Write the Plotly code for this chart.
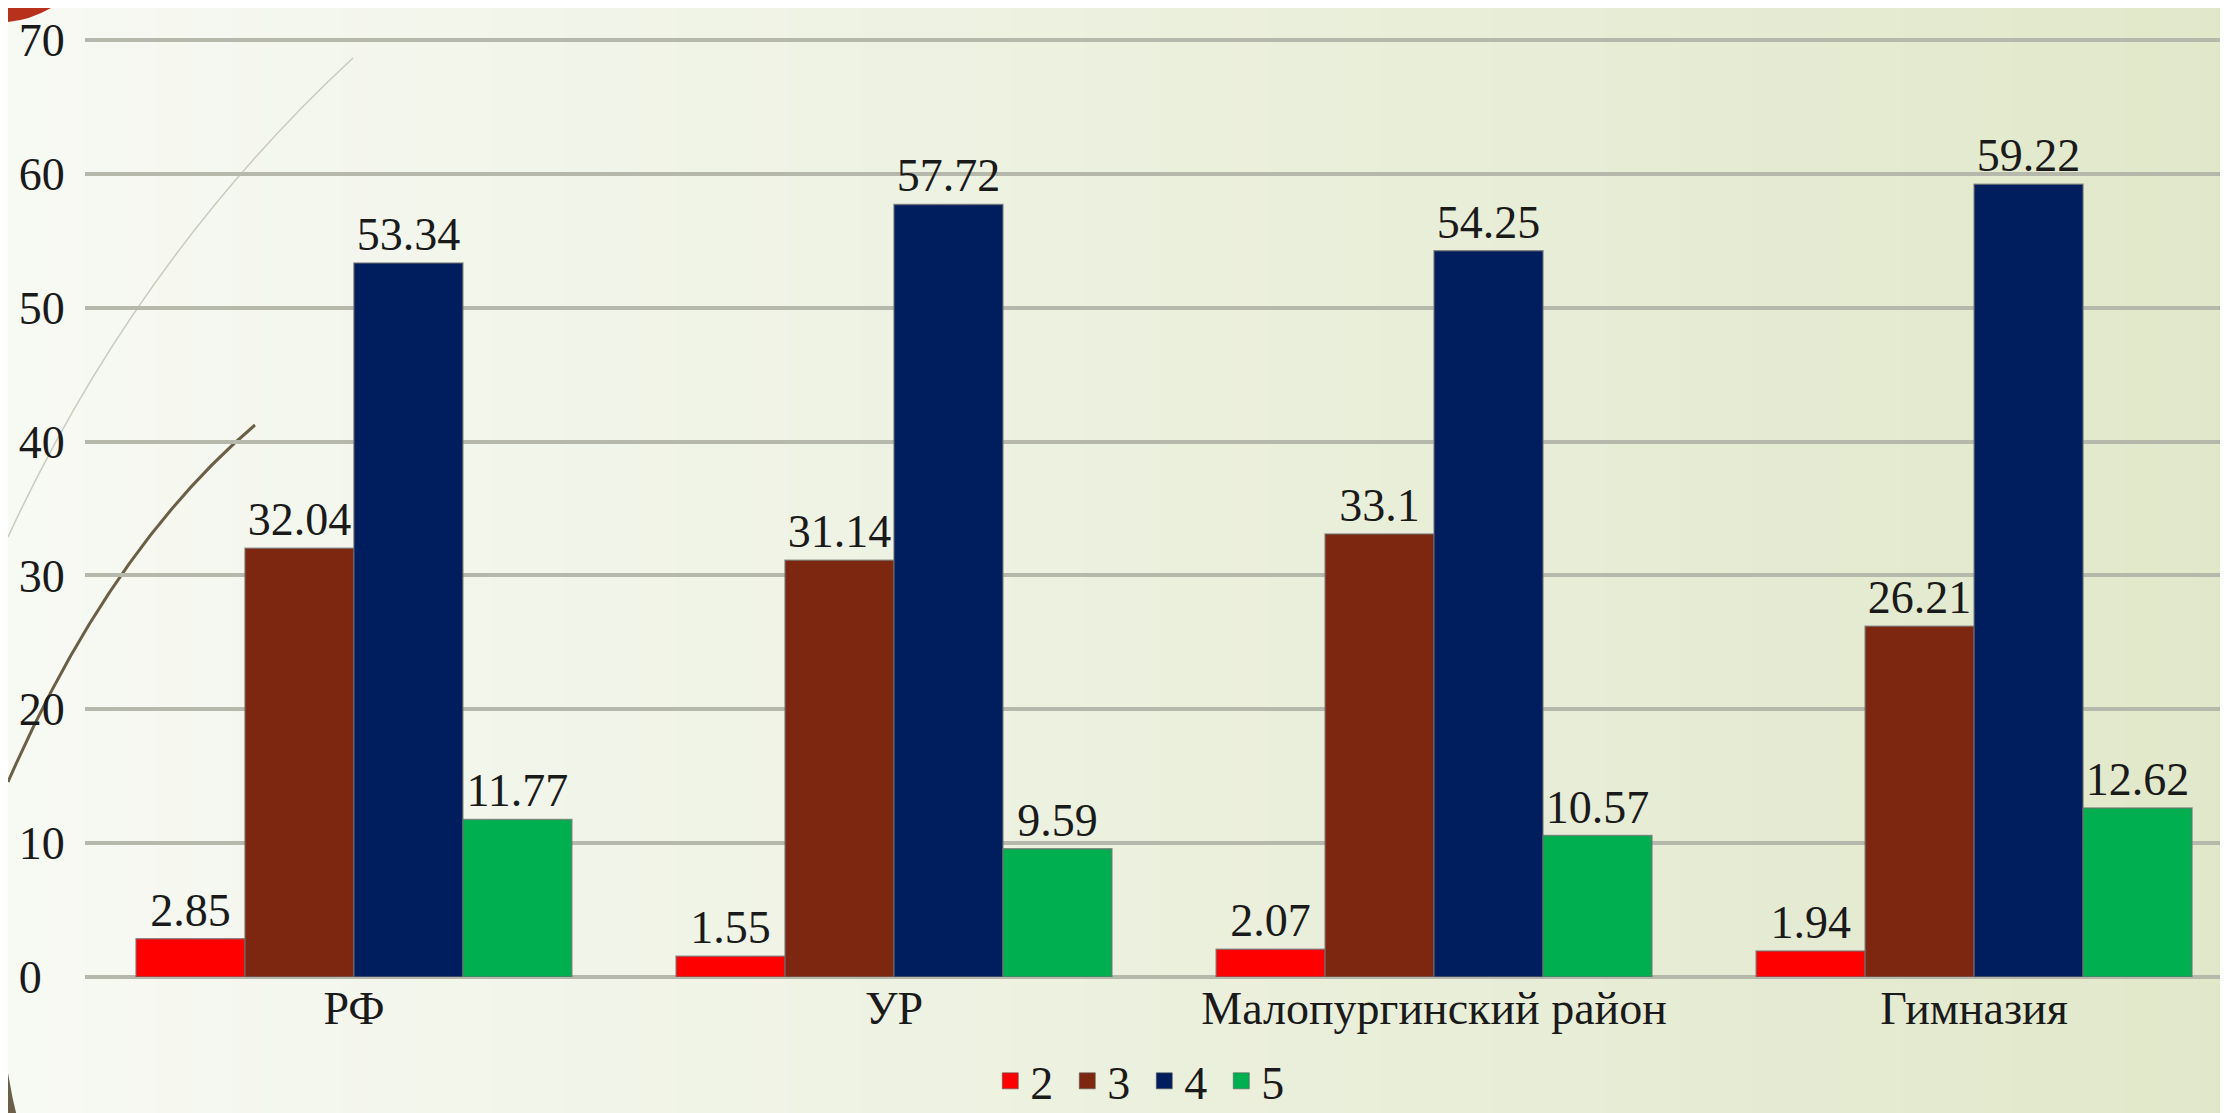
import plotly.graph_objects as go

# данные
categories = ["РФ", "УР", "Малопургинский район", "Гимназия"]
grades = ["2", "3", "4", "5"]
values_2 = [2.85, 1.55, 2.07, 1.94]
values_3 = [32.04, 31.14, 33.1, 26.21]
values_4 = [53.34, 57.72, 54.25, 59.22]
values_5 = [11.77, 9.59, 10.57, 12.62]
y_ticks = [0, 10, 20, 30, 40, 50, 60, 70]

series = [values_2, values_3, values_4, values_5]
colors = ["#ff0000", "#7e2710", "#001e5e", "#00b050"]

W, H = 2228, 1113
L, R, T, B = 77, 0, 28, 144
pw, ph = W - L - R, H - T - B
FONT = "Liberation Serif"


def px(x, y):
    """пиксели страницы -> координаты paper"""
    return (x - L) / pw, (H - B - y) / ph


fig = go.Figure()
for name, vals, col in zip(grades, series, colors):
    fig.add_trace(go.Bar(
        x=categories, y=vals, name=name, showlegend=False,
        marker=dict(color=col, line=dict(color="rgba(110,110,110,0.7)", width=1.5)),
        text=[f"{v:g}" for v in vals], textposition="outside",
        textfont=dict(family=FONT, size=46, color="#1a1a1a"),
        cliponaxis=False,
    ))
# квадратики легенды
for name, col in zip(grades, colors):
    fig.add_trace(go.Scatter(
        x=[None], y=[None], mode="markers", name=name,
        marker=dict(symbol="square", size=20, color=col,
                    line=dict(color="rgba(90,90,90,0.6)", width=1)),
    ))

# фон-градиент полосами
shapes = []
n = 60
c0, c1 = (247, 249, 243), (225, 232, 202)
for i in range(n):
    t = i / (n - 1)
    c = tuple(round(a + (b - a) * t) for a, b in zip(c0, c1))
    x0, y0 = px(W * i / n, 0)
    x1, y1 = px(W * (i + 1) / n + 1, H)
    shapes.append(dict(type="rect", xref="paper", yref="paper", x0=x0, x1=x1, y0=y1, y1=y0,
                       line=dict(width=0), fillcolor=f"rgb{c}", layer="below"))


def qpath(p0, c, p2, close=None):
    a, b, d = px(*p0), px(*c), px(*p2)
    s = f"M{a[0]},{a[1]} Q{b[0]},{b[1]} {d[0]},{d[1]}"
    if close:
        for q in close:
            e = px(*q)
            s += f" L{e[0]},{e[1]}"
        s += " Z"
    return s


# декоративные дуги темы
shapes.append(dict(type="path", xref="paper", yref="paper", layer="below",
                   path=qpath((345, 50), (129, 250), (0, 529)),
                   line=dict(color="#c9cbbd", width=1.5)))
shapes.append(dict(type="path", xref="paper", yref="paper", layer="below",
                   path=qpath((247, 417), (102, 540), (0, 774)),
                   line=dict(color="#6b5f45", width=3)))
shapes.append(dict(type="path", xref="paper", yref="paper",
                   path=qpath((0, 1065), (4, 1090), (10, 1113), close=[(0, 1113)]),
                   fillcolor="#6b6047", line=dict(width=0)))
shapes.append(dict(type="path", xref="paper", yref="paper",
                   path=qpath((43, 0), (22, 12), (0, 14), close=[(0, 0)]),
                   fillcolor="#b7311b", line=dict(width=0)))

fig.update_layout(
    width=W, height=H,
    margin=dict(l=L, r=R, t=T, b=B, pad=0),
    paper_bgcolor="#eef2e2", plot_bgcolor="rgba(0,0,0,0)",
    font=dict(family=FONT, size=46, color="#1a1a1a"),
    barmode="group", bargap=0.193, bargroupgap=0,
    shapes=shapes,
    showlegend=True,
    legend=dict(orientation="h", xref="container", yref="container",
                x=0.51, xanchor="center", y=0.036, yanchor="middle",
                font=dict(family=FONT, size=46), itemwidth=30,
                entrywidth=32, entrywidthmode="pixels",
                bgcolor="rgba(0,0,0,0)"),
    xaxis=dict(range=[-0.498, 3.485], showgrid=False, showline=False, zeroline=False,
               ticks="", tickfont=dict(family=FONT, size=46, color="#1a1a1a")),
    yaxis=dict(range=[0, 70.3], tickvals=y_ticks,
               ticktext=[f"{v}" if v else "0\u2007" for v in y_ticks],
               showgrid=True, gridcolor="#b6b8ac", gridwidth=4,
               zeroline=True, zerolinecolor="#b6b8ac", zerolinewidth=4,
               showline=False, ticks="outside", ticklen=10, tickcolor="rgba(0,0,0,0)",
               tickfont=dict(family=FONT, size=46, color="#1a1a1a")),
)

fig.write_html("out.html")
